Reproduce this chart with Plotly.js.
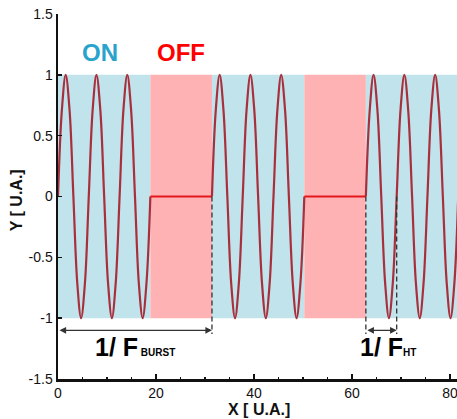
<!DOCTYPE html>
<html>
<head>
<meta charset="utf-8">
<script src="https://cdn.plot.ly/plotly-3.0.1.min.js"></script>
<style>html,body{margin:0;padding:0;background:#fff;}#chart{width:457px;height:419px;}</style>
</head>
<body>
<div id="chart"></div>
<script>
// ---- data ----
const burst1X = [0, 0.79, 1.57, 2.36, 3.14, 3.93, 4.71, 5.50, 6.28, 7.07, 7.85, 8.64, 9.42, 10.21, 11.00, 11.78, 12.57, 13.35, 14.14, 14.92, 15.71, 16.49, 17.28, 18.06, 18.85];
const burst2X = [31.42, 32.20, 32.99, 33.77, 34.56, 35.34, 36.13, 36.91, 37.70, 38.48, 39.27, 40.06, 40.84, 41.63, 42.41, 43.20, 43.98, 44.77, 45.55, 46.34, 47.12, 47.91, 48.69, 49.48, 50.27];
const burst3X = [62.83, 63.62, 64.40, 65.19, 65.97, 66.76, 67.54, 68.33, 69.12, 69.90, 70.69, 71.47, 72.26, 73.04, 73.83, 74.61, 75.40, 76.18, 76.97, 77.75, 78.54, 79.33, 80.11, 80.90, 81.68];
const burstY  = [0, 0.71, 1, 0.71, 0, -0.71, -1, -0.71, 0, 0.71, 1, 0.71, 0, -0.71, -1, -0.71, 0, 0.71, 1, 0.71, 0, -0.71, -1, -0.71, 0];
const offLine1X = [18.85, 31.42];
const offLine2X = [50.27, 62.83];
const offLineY = [0, 0];

const onStart = [0, 31.42, 62.83];
const onEnd = [18.85, 50.27, 81.68];
const offStart = [18.85, 50.27];
const offEnd = [31.42, 62.83];
const bandLow = -1, bandHigh = 1;

const burstPeriod = [0, 31.42];   // 1/F_BURST arrow
const htPeriod = [62.83, 69.12];  // 1/F_HT arrow
const arrowY = -1.1;
const dashX = [31.42, 62.83, 69.12];
const dashTop = 0, dashBottom = -1.13;

const xTicks = [0, 20, 40, 60, 80];
const yTicks = [-1.5, -1, -0.5, 0, 0.5, 1, 1.5];
const yTickText = ['-1.5', '-1', '-0.5', '0', '0.5', '1', '1.5'];
const xTitle = 'X [ U.A.]';
const yTitle = 'Y [ U.A.]';

// ---- styling ----
const sineColor = '#a8303c';
const flatColor = '#e3161b';
const blueBand = '#c1e3ec';
const pinkBand = '#ffb2b4';

const sine = (xs) => ({x: xs, y: burstY, type: 'scatter', mode: 'lines',
  line: {color: sineColor, width: 2.2, shape: 'spline', smoothing: 1}, hoverinfo: 'skip'});
const flat = (xs) => ({x: xs, y: offLineY, type: 'scatter', mode: 'lines',
  line: {color: flatColor, width: 2.2}, hoverinfo: 'skip'});

const traces = [sine(burst1X), sine(burst2X), sine(burst3X), flat(offLine1X), flat(offLine2X)];

const shapes = [];
onStart.forEach((s, i) => shapes.push({type: 'rect', xref: 'x', yref: 'y', x0: s, x1: onEnd[i], y0: bandLow, y1: bandHigh,
  fillcolor: blueBand, line: {width: 0}, layer: 'below'}));
offStart.forEach((s, i) => shapes.push({type: 'rect', xref: 'x', yref: 'y', x0: s, x1: offEnd[i], y0: bandLow, y1: bandHigh,
  fillcolor: pinkBand, line: {width: 0}, layer: 'below'}));
dashX.forEach(d => shapes.push({type: 'line', xref: 'x', yref: 'y', x0: d, x1: d, y0: dashTop, y1: dashBottom,
  line: {color: '#333', width: 1.3, dash: '5px,3px'}}));

const font = 'Liberation Sans, Arial, sans-serif';
const annotations = [
  {x: burstPeriod[1], y: arrowY, ax: burstPeriod[0], ay: arrowY, xref: 'x', yref: 'y', axref: 'x', ayref: 'y',
   text: '', showarrow: true, arrowside: 'end+start', arrowhead: 2, arrowsize: 1.1, arrowwidth: 1.2, arrowcolor: '#333', standoff: 0, startstandoff: 0},
  {x: htPeriod[1], y: arrowY, ax: htPeriod[0], ay: arrowY, xref: 'x', yref: 'y', axref: 'x', ayref: 'y',
   text: '', showarrow: true, arrowside: 'end+start', arrowhead: 2, arrowsize: 1.1, arrowwidth: 1.2, arrowcolor: '#333', standoff: 0, startstandoff: 0},
  {x: 8.5, y: 1.18, xref: 'x', yref: 'y', text: '<b>ON</b>', showarrow: false,
   font: {family: font, size: 24, color: '#2aa3cc'}},
  {x: 25.0, y: 1.18, xref: 'x', yref: 'y', text: '<b>OFF</b>', showarrow: false,
   font: {family: font, size: 24, color: '#ff0000'}},
  {x: 15.7, y: -1.24, xref: 'x', yref: 'y', showarrow: false,
   text: '<b>1/ F</b><span style="font-size:10px"><b> BURST</b></span>',
   font: {family: font, size: 25, color: '#000'}},
  {x: 67.3, y: -1.24, xref: 'x', yref: 'y', showarrow: false,
   text: '<b>1/ F</b><span style="font-size:10px"><b>HT</b></span>',
   font: {family: font, size: 25, color: '#000'}},
  {x: 0.505, y: -0.083, xref: 'paper', yref: 'paper', xanchor: 'center', yanchor: 'middle', showarrow: false,
   borderpad: 0, text: '<b>' + xTitle + '</b>', font: {family: font, size: 16, color: '#111'}},
  {x: -0.105, y: 0.49, xref: 'paper', yref: 'paper', xanchor: 'center', yanchor: 'middle', showarrow: false, textangle: -90,
   text: '<b>' + yTitle + '</b>', font: {family: font, size: 16, color: '#111'}}
];

const layout = {
  width: 457, height: 419,
  margin: {l: 58, r: 0, t: 14, b: 40, pad: 0},
  paper_bgcolor: '#fff', plot_bgcolor: '#fff',
  showlegend: false, hovermode: false,
  font: {family: font, size: 14, color: '#111'},
  xaxis: {range: [0, 81.43], tickmode: 'array', tickvals: xTicks, ticktext: xTicks.map(String),
    ticks: 'inside', ticklen: 5, tickwidth: 1.5, tickcolor: '#111', ticklabeloverflow: 'allow',
    minor: {dtick: 5, ticks: 'inside', ticklen: 2, tickcolor: '#111', showgrid: false},
    showline: true, linecolor: '#111', linewidth: 2.5, showgrid: false, zeroline: false,
    tickfont: {size: 14, color: '#111'}},
  yaxis: {range: [-1.5, 1.5], tickmode: 'array', tickvals: yTicks, ticktext: yTickText,
    ticks: 'inside', ticklen: 4, tickwidth: 1.5, tickcolor: '#111',
    showline: true, linecolor: '#111', linewidth: 2.5, showgrid: false, zeroline: false,
    tickfont: {size: 14, color: '#111'}},
  shapes: shapes,
  annotations: annotations
};

Plotly.newPlot('chart', traces, layout, {staticPlot: true, displayModeBar: false});
</script>
</body>
</html>
